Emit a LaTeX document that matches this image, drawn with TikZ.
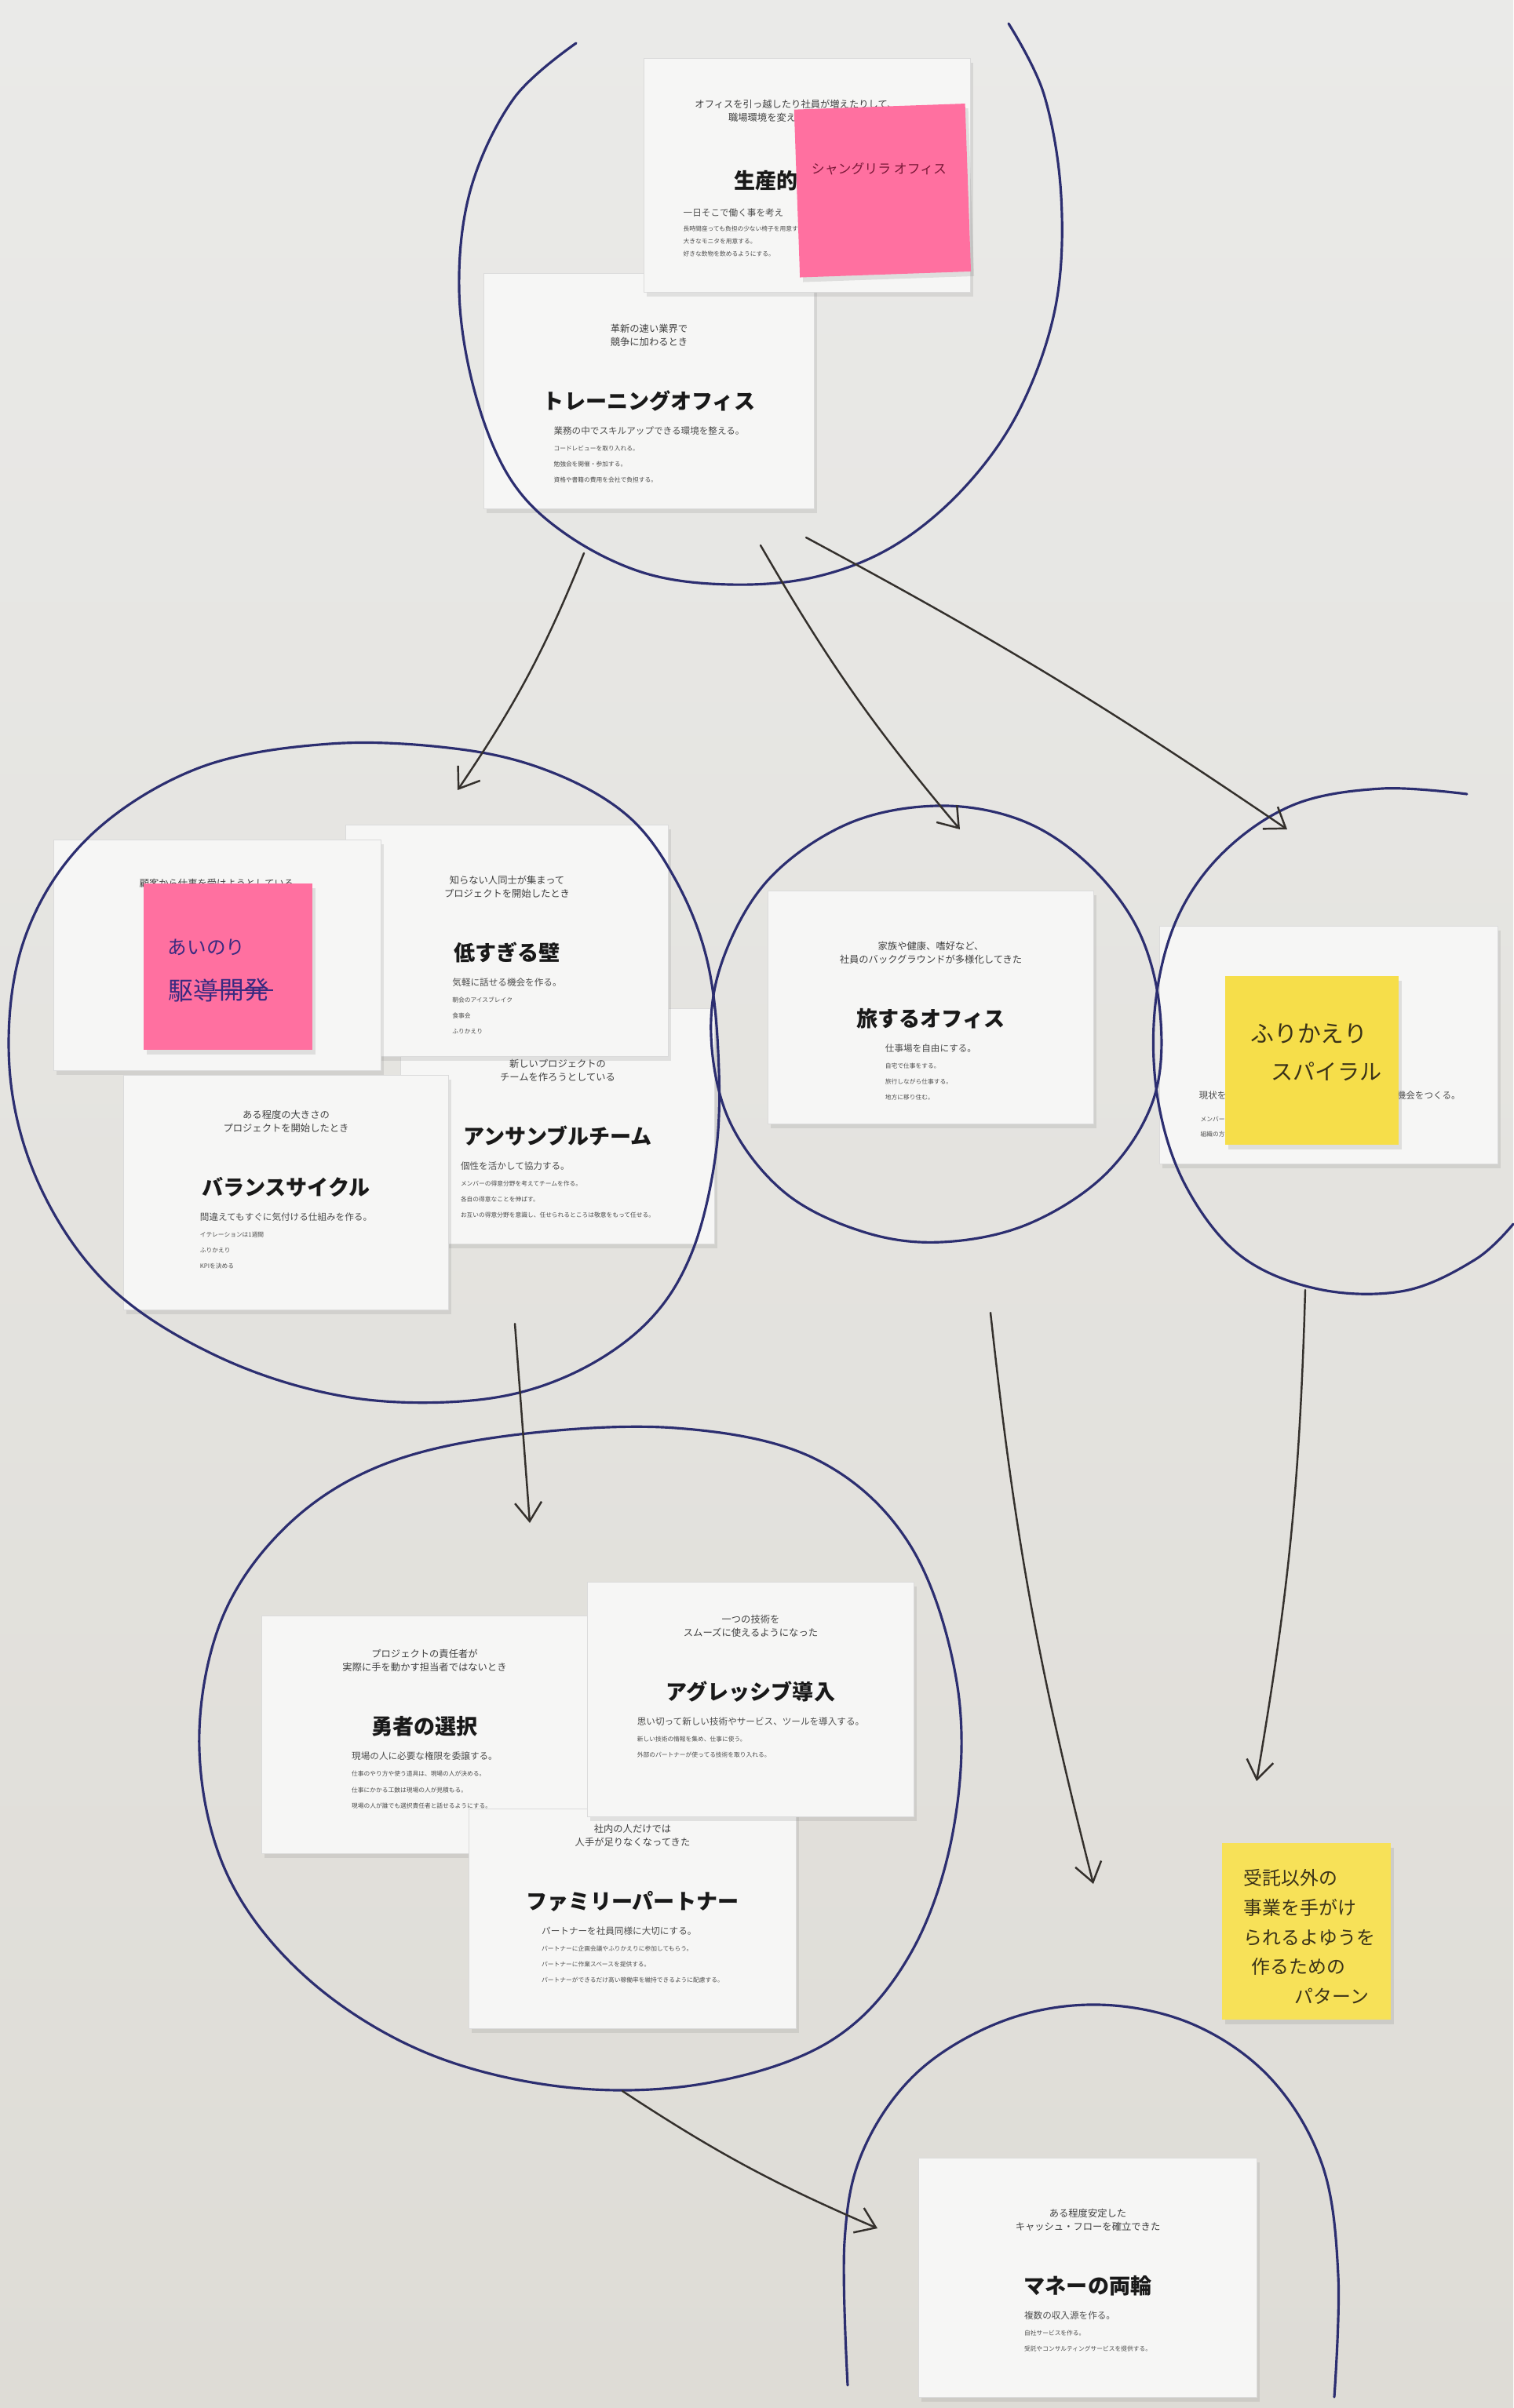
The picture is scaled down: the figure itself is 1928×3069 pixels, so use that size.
\documentclass[tikz,border=0pt]{standalone}
\usepackage{fontspec}
\setmainfont{Noto Sans CJK JP}
\usetikzlibrary{positioning, arrows.meta, shadows}

\definecolor{wallTop}{RGB}{234,234,232}
\definecolor{wallBottom}{RGB}{222,220,214}
\definecolor{paper}{RGB}{246,246,245}
\definecolor{pinkNote}{RGB}{255,112,160}
\definecolor{yellowNote}{RGB}{246,222,74}
\definecolor{blueInk}{RGB}{44,46,112}
\definecolor{pencil}{RGB}{52,48,44}
\definecolor{redPen}{RGB}{122,24,56}
\definecolor{purplePen}{RGB}{58,42,128}
\definecolor{darkPen}{RGB}{58,50,24}

\tikzstyle{card} = [rectangle, fill=paper, draw=black!14, line width=0.3pt, inner sep=0pt,
  drop shadow={shadow xshift=0.3mm, shadow yshift=-0.5mm, opacity=0.18}]
\tikzstyle{note} = [rectangle, inner sep=0pt, drop shadow={shadow xshift=0.4mm, shadow yshift=-0.6mm, opacity=0.2}]
\tikzstyle{arrow} = [line width=0.7pt, pencil, line cap=round, -{Straight Barb[length=2.4mm,width=3.4mm]}]

% card: name, top left, size, text lift, situation, title, lead, details
\newcommand{\patterncard}[8]{%
  \node[card, #3, anchor=north west] (#1) at #2 {};
  \node[cardsub] (#1-sub) at ([yshift={-7.95mm+#4}]#1.north) {#5};
  \node[cardtitle] (#1-title) at ([yshift={-16.3mm+#4}]#1.north) {#6};
  \node[cardbody, anchor=north] (#1-body) at ([yshift={-19.5mm+#4}]#1.north)
    {{\fontsize{3.3pt}{6pt}\selectfont #7}\\[0.4pt]#8};
}

\begin{document}
\begin{tikzpicture}[x=0.1mm, y=-0.1mm,
cardsub/.style={font=\fontsize{3.5pt}{4.8pt}\selectfont, text=black!75, align=center, inner sep=0pt},
cardtitle/.style={font=\fontsize{7.7pt}{9pt}\selectfont\bfseries, text=black!90, inner sep=0pt},
cardbody/.style={font=\fontsize{2.2pt}{5.7pt}\selectfont, text=black!70, align=left, inner sep=0pt},
ink/.style={line width=0.9pt, blueInk, line cap=round, line join=round},
hand/.style={inner sep=0pt, align=left}
]
\useasboundingbox (0,0) rectangle (1928,3069);
\shade[top color=wallTop, bottom color=wallBottom] (0,0) rectangle (1928,3069);

% top group
\patterncard{train}{(616,348)}{minimum width=42.1mm, minimum height=30mm}{0mm}
  {革新の速い業界で\\競争に加わるとき}{トレーニングオフィス}
  {業務の中でスキルアップできる環境を整える。}
  {コードレビューを取り入れる。\\勉強会を開催・参加する。\\資格や書籍の費用を会社で負担する。}

\node[card, minimum width=41.6mm, minimum height=29.8mm, anchor=north west] (prod) at (820,74) {};
\node[cardsub] (prod-sub1) at (1014,133) {オフィスを引っ越したり社員が増えたりして、};
\node[cardsub] (prod-sub2) at (1014,150) {職場環境を変えようとしている};
\node[cardtitle, anchor=west] (prod-title) at (935,230) {生産的};
\node[cardbody, anchor=west, font=\fontsize{3.3pt}{6pt}\selectfont] (prod-lead) at (870,271) {一日そこで働く事を考え};
\node[cardbody, anchor=north west, font=\fontsize{2.2pt}{4.6pt}\selectfont] (prod-body) at (870,287)
  {長時間座っても負担の少ない椅子を用意する。\\大きなモニタを用意する。\\好きな飲物を飲めるようにする。};
\node[note, fill=pinkNote, minimum width=21.8mm, minimum height=21.4mm, anchor=north west, rotate=2] (shangri) at (1011,139) {};
\node[hand, text=redPen, font=\fontsize{4.8pt}{6pt}\selectfont] (shangri-txt) at (1120,215) {シャングリラ オフィス};

% left group
\patterncard{ens}{(510,1285)}{minimum width=40mm, minimum height=30mm}{0mm}
  {新しいプロジェクトの\\チームを作ろうとしている}{アンサンブルチーム}
  {個性を活かして協力する。}
  {メンバーの得意分野を考えてチームを作る。\\各自の得意なことを伸ばす。\\お互いの得意分野を意識し、任せられるところは敬意をもって任せる。}
\patterncard{wall}{(440,1051)}{minimum width=41.1mm, minimum height=29.5mm}{0mm}
  {知らない人同士が集まって\\プロジェクトを開始したとき}{低すぎる壁}
  {気軽に話せる機会を作る。}
  {朝会のアイスブレイク\\食事会\\ふりかえり}
\patterncard{bal}{(157,1370)}{minimum width=41.4mm, minimum height=29.9mm}{2mm}
  {ある程度の大きさの\\プロジェクトを開始したとき}{バランスサイクル}
  {間違えてもすぐに気付ける仕組みを作る。}
  {イテレーションは1週間\\ふりかえり\\KPIを決める}
\node[card, minimum width=41.7mm, minimum height=29.4mm, anchor=north west] (ride) at (68,1070) {};
\node[cardsub] (ride-sub) at (276,1126) {顧客から仕事を受けようとしている};
\node[note, fill=pinkNote, minimum width=21.5mm, minimum height=21.2mm, anchor=north west] (ainori) at (182,1125) {};
\node[hand, text=purplePen, font=\fontsize{7pt}{8pt}\selectfont] (ainori-1) at (263,1207) {あいのり};
\node[hand, text=purplePen, font=\fontsize{9pt}{10pt}\selectfont, anchor=west] (ainori-2) at (214,1262) {駆導};
\node[hand, text=purplePen, font=\fontsize{9pt}{10pt}\selectfont, right=0pt of ainori-2] (ainori-3) {開発};
\draw[purplePen, line width=0.8pt] ([xshift=-0.5mm]ainori-3.west) -- ([xshift=0.5mm]ainori-3.east);

% middle group
\patterncard{travel}{(978,1135)}{minimum width=41.5mm, minimum height=29.7mm}{0mm}
  {家族や健康、嗜好など、\\社員のバックグラウンドが多様化してきた}{旅するオフィス}
  {仕事場を自由にする。}
  {自宅で仕事をする。\\旅行しながら仕事する。\\地方に移り住む。}

% right group
\node[card, minimum width=43.1mm, minimum height=30.3mm, anchor=north west] (spiral) at (1477,1180) {};
\node[cardbody, anchor=west, font=\fontsize{3.3pt}{6pt}\selectfont] (spiral-lead1) at (1527,1396) {現状を};
\node[cardbody, anchor=west, font=\fontsize{3.3pt}{6pt}\selectfont] (spiral-lead2) at (1779,1396) {機会をつくる。};
\node[cardbody, anchor=west] (spiral-b1) at (1529,1426) {メンバー};
\node[cardbody, anchor=west] (spiral-b2) at (1529,1446) {組織の方};
\node[note, fill=yellowNote, minimum width=22.1mm, minimum height=21.5mm, anchor=north west] (furikaeri) at (1560,1243) {};
\node[hand, text=darkPen, font=\fontsize{8.5pt}{10pt}\selectfont] (furikaeri-1) at (1668,1317) {ふりかえり};
\node[hand, text=darkPen, font=\fontsize{8pt}{10pt}\selectfont] (furikaeri-2) at (1690,1366) {スパイラル};

% bottom group
\patterncard{brave}{(333,2059)}{minimum width=41.5mm, minimum height=30.3mm}{2.2mm}
  {プロジェクトの責任者が\\実際に手を動かす担当者ではないとき}{勇者の選択}
  {現場の人に必要な権限を委譲する。}
  {仕事のやり方や使う道具は、現場の人が決める。\\仕事にかかる工数は現場の人が見積もる。\\現場の人が誰でも選択責任者と話せるようにする。}
\patterncard{family}{(597,2305)}{minimum width=41.7mm, minimum height=28mm}{4.5mm}
  {社内の人だけでは\\人手が足りなくなってきた}{ファミリーパートナー}
  {パートナーを社員同様に大切にする。}
  {パートナーに企画会議やふりかえりに参加してもらう。\\パートナーに作業スペースを提供する。\\パートナーができるだけ高い稼働率を維持できるように配慮する。}
\patterncard{aggr}{(748,2016)}{minimum width=41.6mm, minimum height=29.9mm}{2.3mm}
  {一つの技術を\\スムーズに使えるようになった}{アグレッシブ導入}
  {思い切って新しい技術やサービス、ツールを導入する。}
  {新しい技術の情報を集め、仕事に使う。\\外部のパートナーが使ってる技術を取り入れる。}

\node[note, fill=yellowNote!92!white, minimum width=21.5mm, minimum height=22.5mm, anchor=north west] (jutaku) at (1556,2348) {};
\node[hand, text=darkPen, font=\fontsize{6.8pt}{10.7pt}\selectfont, anchor=north west] (jutaku-txt) at (1584,2382)
  {受託以外の\\事業を手がけ\\られるよゆうを\\\hspace{1mm}作るための\\\hspace{6.5mm}パターン};

% money
\patterncard{money}{(1170,2750)}{minimum width=43.1mm, minimum height=30.5mm}{0mm}
  {ある程度安定した\\キャッシュ・フローを確立できた}{マネーの両輪}
  {複数の収入源を作る。}
  {自社サービスを作る。\\受託やコンサルティングサービスを提供する。}

% circles
\draw[ink] plot[smooth, tension=0.6] coordinates {(734,55) (655,125) (600,240) (585,370) (605,500) (650,610) (720,680) (820,730) (930,745) (1040,735) (1140,695) (1230,620) (1300,520) (1345,390) (1352,250) (1330,120) (1285,30)};
\draw[ink] plot[smooth cycle, tension=0.6] coordinates {(587,955) (705,985) (800,1040) (860,1120) (900,1220) (915,1340) (912,1470) (880,1600) (820,1690) (720,1755) (600,1785) (440,1780) (280,1730) (140,1640) (50,1510) (12,1360) (30,1200) (110,1070) (250,980) (420,948)};
\draw[ink] plot[smooth cycle, tension=0.6] coordinates {(1194,1027) (1080,1050) (980,1120) (922,1220) (906,1320) (930,1430) (1000,1520) (1100,1570) (1200,1583) (1310,1560) (1410,1495) (1470,1400) (1478,1290) (1450,1185) (1385,1100) (1300,1045)};
\draw[ink] plot[smooth, tension=0.6] coordinates {(1869,1012) (1761,1005) (1650,1025) (1560,1085) (1500,1170) (1472,1280) (1475,1400) (1510,1510) (1580,1600) (1680,1643) (1790,1645) (1880,1605) (1928,1560)};
\draw[ink] plot[smooth cycle, tension=0.6] coordinates {(646,1830) (861,1820) (1040,1860) (1160,1970) (1220,2150) (1215,2330) (1160,2490) (1060,2600) (900,2655) (720,2660) (540,2615) (390,2520) (290,2390) (254,2230) (280,2070) (360,1950) (480,1870)};
\draw[ink] plot[smooth, tension=0.6] coordinates {(1080,3040) (1076,2857) (1100,2740) (1170,2640) (1280,2575) (1400,2555) (1520,2580) (1620,2650) (1685,2760) (1705,2900) (1700,3055)};

% arrows
\coordinate (top-out1) at (744,705);
\coordinate (top-out2) at (969,695);
\coordinate (top-out3) at (1027,685);
\coordinate (left-in) at (583,1007);
\coordinate (mid-in) at (1223,1057);
\coordinate (right-in) at (1640,1057);
\coordinate (left-out) at (656,1687);
\coordinate (bottom-in) at (675,1941);
\coordinate (mid-out) at (1262,1673);
\coordinate (mid-end) at (1393,2401);
\coordinate (right-out) at (1663,1644);
\coordinate (right-end) at (1601,2270);
\coordinate (bottom-out) at (793,2665);
\coordinate (money-in) at (1118,2840);

\draw[arrow] (top-out1) to[bend left=6] (left-in);
\draw[arrow] (top-out2) to[bend right=5] (mid-in);
\draw[arrow] (top-out3) to[bend left=3] (right-in);
\draw[arrow] (left-out) -- (bottom-in);
\draw[arrow] (mid-out) to[bend right=4] (mid-end);
\draw[arrow] (right-out) to[bend left=4] (right-end);
\draw[arrow] (bottom-out) to[bend right=5] (money-in);
\end{tikzpicture}
\end{document}
